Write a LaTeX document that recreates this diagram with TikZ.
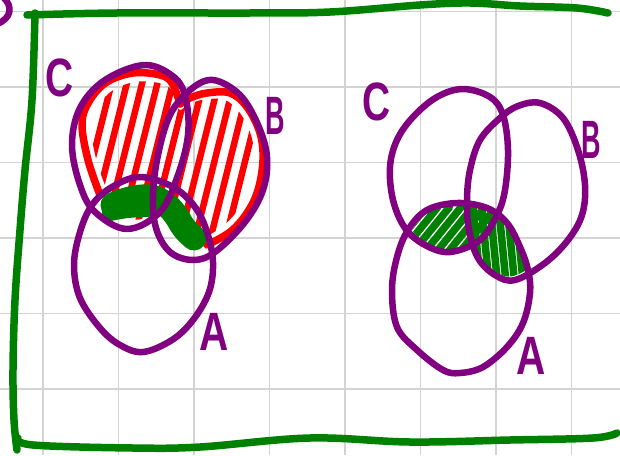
\documentclass[tikz,border=0pt]{standalone}
\usepackage{fontspec}
\setsansfont{Liberation Sans}
\definecolor{vpurple}{RGB}{128,0,128}
\definecolor{vgreen}{RGB}{0,128,0}
\definecolor{vred}{RGB}{255,0,0}
\definecolor{vgrid}{RGB}{211,211,211}
% left diagram sets
\newcommand\lCset{plot[smooth cycle,tension=0.6] coordinates {(145,65) (175,78) (186,100) (188,135) (178,175) (160,212) (127,229) (95,212) (80,185) (72,145) (80,108) (105,80)}}
\newcommand\lBset{plot[smooth cycle,tension=0.6] coordinates {(213,80) (240,95) (258,125) (267,157) (263,190) (245,222) (215,252) (193,260) (170,252) (156,228) (153,195) (158,155) (170,115) (190,90)}}
\newcommand\lAset{plot[smooth cycle,tension=0.6] coordinates {(140,177) (173,187) (195,207) (207,232) (213,262) (209,292) (193,320) (172,340) (143,352) (120,345) (100,328) (80,298) (74,265) (80,232) (92,205) (112,187)}}
\newcommand\redregion{plot[smooth cycle,tension=0.6] coordinates {(100,195) (88,160) (82,123) (90,100) (107,82) (133,73) (160,75) (172,83) (180,104) (190,98) (207,93) (230,93) (247,107) (260,133) (263,160) (258,190) (247,213) (230,232) (207,245) (185,238) (160,222) (130,226) (105,212)}}
% right diagram sets
\newcommand\rCset{plot[smooth cycle,tension=0.6] coordinates {(463,89) (490,97) (503,115) (508,150) (505,190) (497,215) (480,240) (450,252) (425,245) (405,228) (393,200) (390,167) (397,140) (413,117) (437,97)}}
\newcommand\rBset{plot[smooth cycle,tension=0.6] coordinates {(540,103) (563,118) (578,150) (585,185) (582,215) (568,240) (545,263) (515,280) (495,275) (478,258) (469,230) (467,200) (470,170) (480,140) (500,118) (518,106)}}
\newcommand\rAset{plot[smooth cycle,tension=0.6] coordinates {(457,203) (487,208) (507,223) (520,247) (528,270) (530,293) (523,323) (507,347) (483,367) (460,373) (443,370) (417,350) (397,327) (392,290) (397,257) (408,230) (427,210)}}
\begin{document}
\begin{tikzpicture}[x=1pt,y=-1pt,
  purp/.style={draw=vpurple,line width=6.5pt,line cap=round,line join=round},
  framestroke/.style={draw=vgreen,line width=7.5pt,line cap=round,line join=round},
  gridline/.style={draw=vgrid,line width=1.8pt},
  redstroke/.style={draw=vred,line width=7.5pt,line cap=round,line join=round},
  redhatch/.style={draw=vred,line width=6.5pt,line cap=round},
  ghatch/.style={draw=vgreen,line width=7.5pt,line cap=round},
  gband/.style={draw=vgreen,line width=25pt,line cap=round,line join=round},
  lbl/.style={text=vpurple,font=\sffamily\bfseries\fontsize{54}{54}\selectfont,inner sep=0pt}]
\useasboundingbox (0,0) rectangle (620,455);
\fill[white] (0,0) rectangle (620,455);
% grid paper
\foreach \x in {43,118.5,194,269.5,345,420.5,496,571.5} \draw[gridline] (\x,0) -- (\x,455);
\foreach \y in {11.5,87,162.5,238,313.5,389} \draw[gridline] (0,\y) -- (620,\y);
% ---- left diagram: red hatching of C union B (lines stop short of the outline)
\begin{scope}[shift={(172,160)},scale=0.9,shift={(-172,-160)}]
  \clip \redregion;
  \foreach \i in {0,...,12} \draw[redhatch] ({58+\i*17},262) -- ({108+\i*17},62);
\end{scope}
\draw[redstroke] plot[smooth,tension=0.6] coordinates {(100,195) (88,160) (82,123) (90,100) (107,82) (133,73) (160,75) (172,83) (180,104)};
\draw[redstroke] plot[smooth,tension=0.6] coordinates {(180,104) (190,98) (207,93) (230,93) (247,107) (260,133) (263,160) (258,190) (247,213) (230,232) (207,245)};
% green band (A intersect (B union C))
\draw[gband] plot[smooth,tension=0.7] coordinates {(113,205) (130,199) (150,197) (164,203) (175,214) (184,228) (194,238)};
\draw[gband,line width=16pt] plot[smooth,tension=0.7] coordinates {(110,213) (128,210) (148,209)};
% purple sets
\draw[purp] \lCset;
\draw[purp] \lBset;
\draw[purp] \lAset;
\node[lbl,xscale=0.72] (lC) at (60,78) {C};
\node[lbl,xscale=0.5] (lB) at (275,116) {B};
\node[lbl,xscale=0.75] (lA) at (214,332) {A};
% ---- right diagram: green hatching
\begin{scope}[shift={(452,228)},scale=0.9,shift={(-452,-228)}]
  \clip \rAset;
  \clip \rCset;
  \foreach \i in {0,...,9} \draw[ghatch] ({380+\i*13},258) -- ({423+\i*13},205);
\end{scope}
\begin{scope}[shift={(497,240)},scale=0.9,shift={(-497,-240)}]
  \clip \rAset;
  \clip \rBset;
  \foreach \i in {0,...,8} \draw[ghatch] ({470+\i*9.5},200) -- ({478+\i*9.5},282);
\end{scope}
\draw[purp] \rCset;
\draw[purp] \rBset;
\draw[purp] \rAset;
\node[lbl,xscale=0.72] (rC) at (377,102) {C};
\node[lbl,xscale=0.5] (rB) at (591,140) {B};
\node[lbl,xscale=0.75] (rA) at (531,356) {A};
% ---- green frame
\draw[framestroke] plot[smooth,tension=0.6] coordinates {(27,15) (117,13) (250,13) (330,12) (420,5) (470,3) (520,6) (577,8) (608,13)};
\draw[framestroke] plot[smooth,tension=0.6] coordinates {(35,13) (32,100) (25,170) (20,230) (15,300) (13,370) (14,420) (17,450)};
\draw[framestroke] plot[smooth,tension=0.6] coordinates {(18,438) (33,445) (133,448) (200,447) (310,438) (410,442) (510,440) (593,438) (617,433)};
% purple fragment at top-left corner
\draw[purp] (3,-3) .. controls (13,6) and (12,18) .. (-3,24);
\end{tikzpicture}
\end{document}
